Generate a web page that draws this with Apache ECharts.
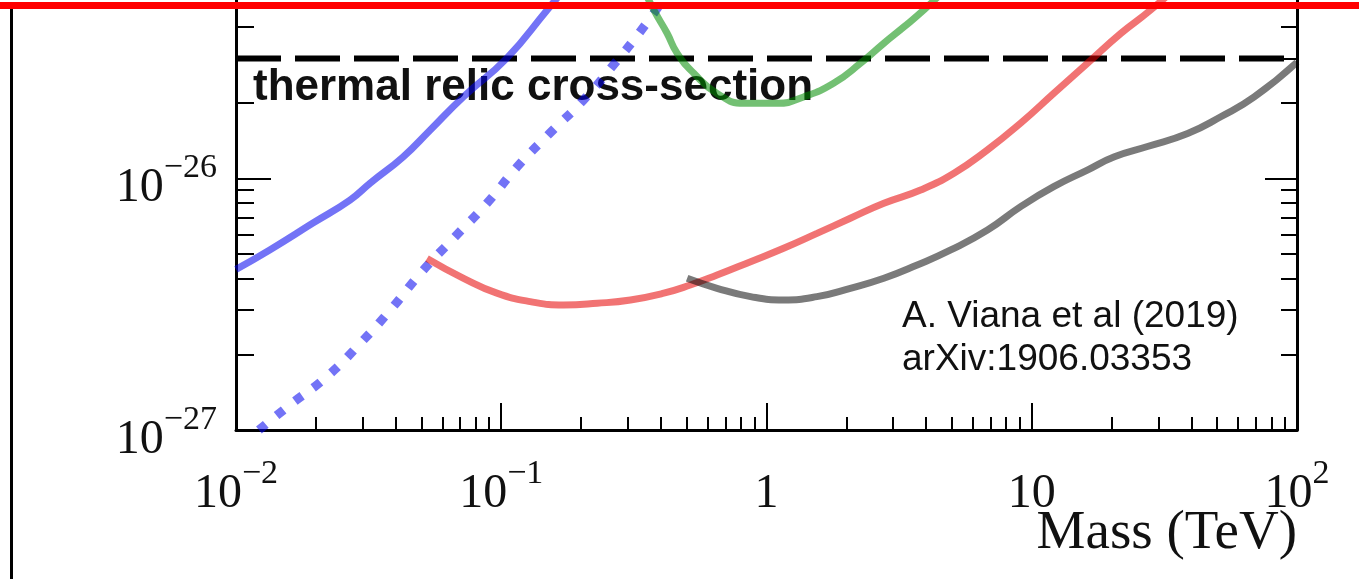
<!DOCTYPE html>
<html>
<head>
<meta charset="utf-8">
<title>thermal relic cross-section</title>
<script src="https://cdn.jsdelivr.net/npm/echarts@6/dist/echarts.min.js"></script>
<style>
  html, body { margin: 0; padding: 0; background: #fff; }
  #chart { width: 1359px; height: 579px; }
</style>
</head>
<body>
<div id="chart"></div>
<script>
// x axis: mass in TeV, y axis: <sigma v> in cm^3/s (log-log)
const xTickValues = [0.01, 0.1, 1, 10, 100];
const xTickBase = ["10", "10", "1", "10", "10"];
const xTickExp = ["\u22122", "\u22121", "", "", "2"];
const yTickValues = [1e-27, 1e-26, 1e-25];
const yTickBase = ["10", "10", "10"];
const yTickExp = ["\u221227", "\u221226", "\u221225"];
const minorSteps = [2, 3, 4, 5, 6, 7, 8, 9];

const thermalRelic = 3e-26;

const blueSolidMass = [0.01, 0.0134, 0.0195, 0.0269, 0.0321, 0.0427, 0.054, 0.0719, 0.105, 0.149, 0.2, 0.25];
const blueSolidSigma = [4.35e-27, 5.2e-27, 6.65e-27, 8.21e-27, 9.6e-27, 1.22e-26, 1.56e-26, 2.11e-26, 3.01e-26, 4.68e-26, 6.8e-26, 9.0e-26];

const blueDotMass = [0.0122, 0.016, 0.022, 0.0294, 0.0387, 0.0502, 0.067, 0.0883, 0.1146, 0.153, 0.204, 0.265, 0.349, 0.45];
const blueDotSigma = [1.0e-27, 1.26e-27, 1.63e-27, 2.21e-27, 3.05e-27, 4.26e-27, 5.87e-27, 7.97e-27, 1.11e-26, 1.52e-26, 2.05e-26, 2.83e-26, 4.08e-26, 6.0e-26];

const redMass = [0.0525, 0.0721, 0.0963, 0.1286, 0.172, 0.23, 0.307, 0.41, 0.516, 0.651, 0.871, 1.16, 1.55, 2.07, 2.77, 3.81, 5.09, 6.81, 9.08, 12.1, 16.2, 21.7, 28.1, 40, 55];
const redSigma = [4.81e-27, 4.01e-27, 3.5e-27, 3.24e-27, 3.14e-27, 3.19e-27, 3.29e-27, 3.5e-27, 3.77e-27, 4.13e-27, 4.67e-27, 5.28e-27, 6.05e-27, 6.95e-27, 7.97e-27, 9.0e-27, 1.05e-26, 1.3e-26, 1.66e-26, 2.18e-26, 2.87e-26, 3.78e-26, 4.68e-26, 6.5e-26, 9.0e-26];

const greenMass = [0.33, 0.376, 0.422, 0.46, 0.532, 0.651, 0.82, 1.1, 1.38, 1.79, 2.26, 2.77, 3.3, 3.92, 4.6];
const greenSigma = [6.2e-26, 4.68e-26, 3.78e-26, 3.15e-26, 2.62e-26, 2.18e-26, 1.99e-26, 1.99e-26, 2.11e-26, 2.39e-26, 2.87e-26, 3.45e-26, 4.01e-26, 4.68e-26, 5.5e-26];

const grayMass = [0.502, 0.651, 0.871, 1.16, 1.55, 2.07, 2.77, 3.7, 4.95, 6.81, 9.08, 12.1, 16.2, 20.5, 27.3, 38.7, 51.6, 69, 100];
const graySigma = [4.01e-27, 3.66e-27, 3.39e-27, 3.29e-27, 3.39e-27, 3.66e-27, 4.01e-27, 4.53e-27, 5.2e-27, 6.24e-27, 7.73e-27, 9.28e-27, 1.08e-26, 1.22e-26, 1.34e-26, 1.51e-26, 1.76e-26, 2.11e-26, 2.9e-26];

// echarts rounds tick values to 20 decimals, so the y axis runs in units of 1e-27
const yUnit = 1e-27;
const toUnit = (v) => v / yUnit;

const pairs = (xs, ys) => xs.map((x, i) => [x, toUnit(ys[i])]);
const minors = (majors) => {
  const out = [];
  majors.slice(0, -1).forEach((m) => minorSteps.forEach((k) => out.push(m * k)));
  return out;
};

const serif = "Liberation Serif";
const labelRich = {
  b: { fontSize: 48, lineHeight: 48, fontFamily: serif, color: "#111", verticalAlign: "bottom" },
  s: { fontSize: 34, lineHeight: 34, fontFamily: serif, color: "#111", verticalAlign: "bottom", padding: [0, 0, 27, 0] },
};
const tickIndex = (values, v) => {
  let best = 0;
  values.forEach((t, i) => {
    if (Math.abs(Math.log10(t) - Math.log10(v)) < Math.abs(Math.log10(values[best]) - Math.log10(v))) best = i;
  });
  return best;
};
const xLabel = (v) => {
  const i = tickIndex(xTickValues, v);
  if (!xTickExp[i]) return "{s| }{b|" + xTickBase[i] + "}{s| }";
  return "{b|" + xTickBase[i] + "}{s|" + xTickExp[i] + "}";
};
const yLabel = (v) => {
  const i = tickIndex(yTickValues, v * yUnit);
  return "{b|" + yTickBase[i] + "}{s|" + yTickExp[i] + "}";
};

const yMajor = yTickValues.map(toUnit);
const yMinor = minors(yTickValues).map(toUnit);

const black = "#000";
const xBase = { type: "log", logBase: 10, min: 0.01, max: 100, position: "bottom", splitLine: { show: false }, axisLine: { onZero: false } };
const yBase = { type: "log", logBase: 10, min: toUnit(1e-27), max: toUnit(1e-25), splitLine: { show: false }, axisLine: { onZero: false } };

const lineSeries = (name, data, color, extra) =>
  Object.assign(
    {
      name: name,
      type: "line",
      data: data,
      showSymbol: false,
      smooth: 0.5,
      silent: true,
      lineStyle: { color: color, width: 7, opacity: 0.55, cap: "butt" },
      z: 3,
    },
    extra || {}
  );

const chart = echarts.init(document.getElementById("chart"));
chart.setOption({
  animation: false,
  backgroundColor: "#fff",
  grid: { left: 236, right: 62, top: -73, bottom: 149, containLabel: false, outerBoundsMode: "none" },
  xAxis: [
    Object.assign({}, xBase, {
      axisLine: { show: true, onZero: false, lineStyle: { color: black, width: 3 } },
      axisTick: { show: true, inside: true, length: 27, customValues: xTickValues, lineStyle: { color: black, width: 2 } },
      axisLabel: { show: true, margin: 40, customValues: xTickValues, formatter: xLabel, rich: labelRich },
    }),
    Object.assign({}, xBase, {
      axisLine: { show: false, onZero: false },
      axisTick: { show: true, inside: true, length: 13, customValues: minors(xTickValues), lineStyle: { color: black, width: 2 } },
      axisLabel: { show: false },
    }),
  ],
  yAxis: [
    Object.assign({}, yBase, {
      position: "left",
      axisLine: { show: true, onZero: false, lineStyle: { color: black, width: 3 } },
      axisTick: { show: true, inside: true, length: 35, customValues: yMajor, lineStyle: { color: black, width: 2 } },
      axisLabel: { show: true, margin: 19, padding: [20, 0, 0, 0], customValues: yMajor, formatter: yLabel, rich: labelRich },
    }),
    Object.assign({}, yBase, {
      position: "left",
      axisLine: { show: false, onZero: false },
      axisTick: { show: true, inside: true, length: 18, customValues: yMinor, lineStyle: { color: black, width: 2 } },
      axisLabel: { show: false },
    }),
    Object.assign({}, yBase, {
      position: "right",
      axisLine: { show: true, onZero: false, lineStyle: { color: black, width: 3 } },
      axisTick: { show: true, inside: true, length: 32, customValues: yMajor, lineStyle: { color: black, width: 2 } },
      axisLabel: { show: false },
    }),
    Object.assign({}, yBase, {
      position: "right",
      axisLine: { show: false, onZero: false },
      axisTick: { show: true, inside: true, length: 16, customValues: yMinor, lineStyle: { color: black, width: 2 } },
      axisLabel: { show: false },
    }),
  ],
  series: [
    {
      name: "thermal relic",
      type: "line",
      data: [[0.01, toUnit(thermalRelic)], [100, toUnit(thermalRelic)]],
      showSymbol: false,
      silent: true,
      lineStyle: { color: black, width: 6, type: [45, 14] },
      z: 2,
    },
    lineSeries("blue", pairs(blueSolidMass, blueSolidSigma), "#0000ee"),
    lineSeries("blue dotted", pairs(blueDotMass, blueDotSigma), "#0000ee", {
      lineStyle: { color: "#0000ee", width: 9, opacity: 0.55, type: [9, 14], cap: "butt" },
    }),
    lineSeries("red", pairs(redMass, redSigma), "#e60000"),
    lineSeries("green", pairs(greenMass, greenSigma), "#008c00"),
    lineSeries("gray", pairs(grayMass, graySigma), "#000000", {
      lineStyle: { color: "#000", width: 7, opacity: 0.52, cap: "butt" },
    }),
  ],
  graphic: [
    {
      type: "text",
      left: 253,
      top: 66,
      z: 1,
      style: { text: "thermal relic cross-section", font: "bold 44px 'Liberation Sans'", fill: "#111" },
    },
    {
      type: "text",
      left: 902,
      top: 295,
      z: 1,
      style: { text: "A. Viana et al (2019)\narXiv:1906.03353", font: "37px 'Liberation Sans'", lineHeight: 43, fill: "#111" },
    },
    {
      type: "text",
      right: 62,
      top: 506,
      z: 1,
      style: { text: "Mass (TeV)", font: "55px 'Liberation Serif'", fill: "#111" },
    },
    {
      type: "rect",
      shape: { x: 10, y: 9, width: 3, height: 570 },
      style: { fill: "#000" },
      z: 100,
    },
    {
      type: "rect",
      shape: { x: 0, y: 2, width: 1359, height: 7 },
      style: { fill: "#ff0000" },
      z: 100,
    },
  ],
});
</script>
</body>
</html>
